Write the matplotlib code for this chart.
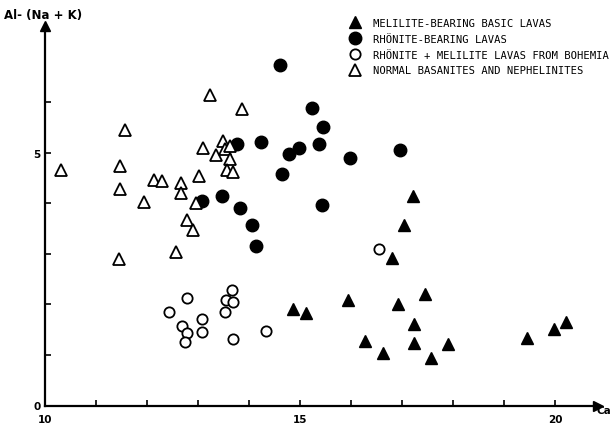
import matplotlib
matplotlib.use("Agg")
import matplotlib.pyplot as plt

# Melilite-bearing basic lavas (filled triangles)
mel_ca = [17.21, 17.04, 16.81, 17.46, 15.95, 16.93, 14.87, 15.11, 17.24, 16.28,
          17.24, 17.91, 16.63, 17.57, 19.45, 19.98, 20.22]
mel_al = [4.14, 3.56, 2.91, 2.21, 2.09, 2.01, 1.90, 1.82, 1.62, 1.28,
          1.23, 1.21, 1.04, 0.93, 1.34, 1.52, 1.65]

# Rhönite-bearing lavas (filled circles)
rho_ca = [14.61, 15.24, 15.46, 14.23, 13.76, 15.38, 14.98, 14.79, 15.99, 16.96,
          14.65, 13.07, 13.48, 13.83, 14.06, 14.14, 15.43]
rho_al = [6.73, 5.88, 5.51, 5.21, 5.17, 5.17, 5.08, 4.98, 4.90, 5.05,
          4.58, 4.04, 4.14, 3.90, 3.56, 3.15, 3.96]

# Rhönite + melilite lavas from Bohemia (open circles)
boh_ca = [12.78, 12.44, 12.69, 12.79, 12.75, 13.08, 13.07, 13.67, 13.55, 13.69,
          13.53, 13.68, 14.33, 16.55]
boh_al = [2.13, 1.84, 1.57, 1.44, 1.25, 1.71, 1.46, 2.29, 2.09, 2.04,
          1.85, 1.32, 1.47, 3.10]

# Normal basanites and nephelinites (open triangles)
bas_ca = [10.31, 11.57, 11.47, 11.47, 11.46, 11.95, 12.14, 12.29, 12.66, 12.66,
          12.56, 12.79, 12.90, 13.02, 12.97, 13.10, 13.24, 13.35, 13.49, 13.52,
          13.63, 13.63, 13.56, 13.68, 13.87]
bas_al = [4.66, 5.44, 4.74, 4.27, 2.89, 4.03, 4.45, 4.43, 4.40, 4.20,
          3.04, 3.66, 3.46, 4.53, 4.01, 5.09, 6.13, 4.96, 5.22, 5.06,
          5.12, 4.88, 4.65, 4.61, 5.86]

labels = ["MELILITE-BEARING BASIC LAVAS",
          "RHÖNITE-BEARING LAVAS",
          "RHÖNITE + MELILITE LAVAS FROM BOHEMIA",
          "NORMAL BASANITES AND NEPHELINITES"]

x_ticks = list(range(10, 21))
x_ticklabels = {10: "10", 15: "15", 20: "20"}
y_ticks = list(range(0, 7))
y_ticklabels = {0: "0", 5: "5"}

W, H = 612, 427
fig = plt.figure(figsize=(W / 100, H / 100), dpi=100)
x0_px, y0_px = 45, 406.5
ux, uy = 51.0, 50.6
xmax, ymax = 20.85, 7.5
ax = fig.add_axes([x0_px / W, (H - y0_px) / H, (xmax - 10) * ux / W, ymax * uy / H])
ax.set_xlim(10, xmax)
ax.set_ylim(0, ymax)

for s in ["top", "right"]:
    ax.spines[s].set_visible(False)
for s in ["left", "bottom"]:
    ax.spines[s].set_linewidth(1.6)
    ax.spines[s].set_color("black")

# arrow heads
ax.plot(1, 0, ">", color="black", ms=7, transform=ax.transAxes, clip_on=False)
ax.plot(0, 1, "^", color="black", ms=7, transform=ax.transAxes, clip_on=False)

ax.set_xticks(x_ticks)
ax.set_xticklabels([x_ticklabels.get(v, "") for v in x_ticks])
ax.set_yticks(y_ticks)
ax.set_yticklabels([y_ticklabels.get(v, "") for v in y_ticks])
ax.tick_params(direction="in", length=4, width=1.2, labelsize=7.5)
ax.tick_params(axis="x", pad=6)
ax.tick_params(axis="y", pad=3)
for t in ax.get_xticklabels() + ax.get_yticklabels():
    t.set_fontweight("bold")

ms_tri = 8.3
h1, = ax.plot(mel_ca, mel_al, "^", color="black", ms=ms_tri, ls="none", clip_on=False)
h2, = ax.plot(rho_ca, rho_al, "o", color="black", ms=9.0, ls="none", clip_on=False)
h3, = ax.plot(boh_ca, boh_al, "o", mfc="white", mec="black", mew=1.3, ms=7.4, ls="none", clip_on=False)
h4, = ax.plot(bas_ca, bas_al, "^", mfc="white", mec="black", mew=1.3, ms=ms_tri, ls="none", clip_on=False)

fig.legend([h1, h2, h3, h4], labels, loc="upper left",
           bbox_to_anchor=(350 / W, 1 - 19 / H), frameon=False,
           prop={"family": "DejaVu Sans Mono", "size": 7.6},
           handlelength=1.0, handletextpad=1.2, labelspacing=0.55,
           borderaxespad=0, borderpad=0)

fig.text(4 / W, 1 - 15 / H, "Al- (Na + K)", fontsize=8.5, fontweight="bold",
         va="center", ha="left")
fig.text(611 / W, 1 - 411 / H, "Ca", fontsize=7.5, fontweight="bold",
         va="center", ha="right")

fig.savefig("out.png", dpi=100)
